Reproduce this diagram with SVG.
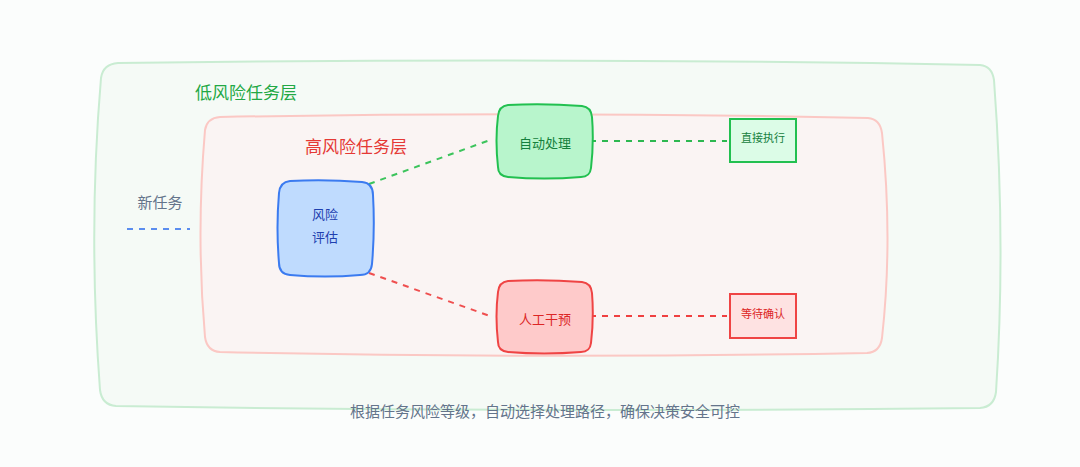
<svg xmlns="http://www.w3.org/2000/svg" width="1080" height="467" viewBox="0 0 1080 467">
<style>
text{font-family:"Noto Sans CJK SC","Noto Sans",sans-serif;text-anchor:middle;dominant-baseline:central}
.dash{fill:none;stroke-width:2;stroke-dasharray:6 6}
</style>
<rect width="1080" height="467" fill="#fbfdfc"/>
<g id="low-layer">
<path d="M118 63 Q560 57 980 65 Q992 66 994 80 Q1006 240 996 392 Q994 407 980 408 Q560 413 116 406 Q102 405 100 390 Q88 230 101 78 Q103 64 118 63 Z" fill="#f5faf6" stroke="#c9ecd2" stroke-width="2"/>
<text x="246" y="91" font-size="17" fill="#22a844">低风险任务层</text>
</g>
<g id="high-layer">
<path d="M220 117 Q540 111 868 118 Q880 119 882 133 Q893 240 882 338 Q880 352 867 353 Q540 359 220 352 Q207 351 205 337 Q196 235 205 130 Q207 118 220 117 Z" fill="#faf4f3" stroke="#fbc8c4" stroke-width="2"/>
<text x="356" y="145" font-size="17" fill="#e53935">高风险任务层</text>
</g>
<g id="connectors">
<path class="dash" d="M127 229 H190" stroke="#5b8def"/>
<path class="dash" d="M369 184 L490 140" stroke="#3cc45c"/>
<path class="dash" d="M369 273 L490 316" stroke="#ef4f4f"/>
<path class="dash" d="M590 141 H727" stroke="#2db850"/>
<path class="dash" d="M590 316 H727" stroke="#ef4040"/>
</g>
<g id="new-task"><text x="160" y="201" font-size="15" fill="#64748b">新任务</text></g>
<g id="risk">
<path d="M290 181 Q325 179 362 182 Q373 183 373 195 Q375 230 372 264 Q371 275 360 275 Q325 278 290 275 Q279 274 279 263 Q276 228 279 193 Q280 182 290 181 Z" fill="#bfdbfe" stroke="#3b7bf0" stroke-width="2"/>
<text x="325" y="213" font-size="13" fill="#1e40af">风险</text>
<text x="325" y="236" font-size="13" fill="#1e40af">评估</text>
</g>
<g id="auto">
<path d="M508 105 Q544 103 582 106 Q591 107 592 117 Q594 142 591 168 Q590 177 581 177 Q544 180 508 177 Q498 176 498 167 Q495 140 498 116 Q499 106 508 105 Z" fill="#b8f5cc" stroke="#22c050" stroke-width="2"/>
<text x="545" y="142" font-size="13" fill="#15803d">自动处理</text>
</g>
<g id="manual">
<path d="M508 281 Q544 279 582 282 Q591 283 592 293 Q594 318 591 343 Q590 352 581 352 Q544 355 508 352 Q498 351 498 342 Q495 316 498 292 Q499 282 508 281 Z" fill="#fecaca" stroke="#ef4444" stroke-width="2"/>
<text x="545" y="318" font-size="13" fill="#dc2626">人工干预</text>
</g>
<g id="exec">
<rect x="730" y="119" width="66" height="43" fill="#dcfce7" stroke="#22c050" stroke-width="2"/>
<text x="763" y="137" font-size="11" fill="#15803d">直接执行</text>
</g>
<g id="confirm">
<rect x="730" y="294" width="66" height="44" fill="#fee2e2" stroke="#ef4444" stroke-width="2"/>
<text x="763" y="313" font-size="11" fill="#dc2626">等待确认</text>
</g>
<g id="caption"><text x="545" y="410" font-size="15" fill="#64748b">根据任务风险等级，自动选择处理路径，确保决策安全可控</text></g>
</svg>
